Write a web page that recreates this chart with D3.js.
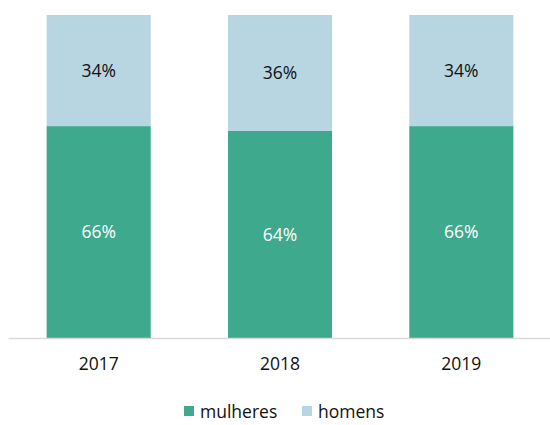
<!DOCTYPE html>
<html><head><meta charset="utf-8">
<script src="https://cdn.jsdelivr.net/npm/d3@7"></script>
<style>body{margin:0;background:#fff}svg{display:block}text{font-family:"Open Sans","Noto Sans",sans-serif}</style>
</head><body><svg id="c" width="550" height="425"></svg>
<script>
const years = ["2017","2018","2019"];
const mulheres = [65.6, 64.1, 65.6];
const homens = [34.4, 35.9, 34.4];
const seriesNames = ["mulheres","homens"];
const colors = ["#3EA98C","#B8D6E2"];

const svg = d3.select("#c");
const x = d3.scaleBand().domain(years).range([8,552]).paddingInner(0.426).paddingOuter(0.213);
const y = d3.scaleLinear().domain([0,100]).range([338,15]);
const rows = years.map((yr,i)=>({year:yr, mulheres:mulheres[i], homens:homens[i]}));
const stack = d3.stack().keys(seriesNames)(rows);
const vals = {mulheres, homens};

stack.forEach((s,si)=>{
  const g = svg.append("g");
  g.selectAll("rect").data(s).join("rect")
    .attr("x", d=>x(d.data.year)).attr("width", x.bandwidth())
    .attr("y", d=>y(d[1])).attr("height", d=>y(d[0])-y(d[1]))
    .attr("fill", colors[si]);
  g.selectAll("text").data(s).join("text")
    .attr("x", d=>x(d.data.year)+x.bandwidth()/2)
    .attr("y", d=>(y(d[0])+y(d[1]))/2)
    .attr("dy","0.35em").attr("text-anchor","middle")
    .attr("font-size",17.5).attr("fill", si===0?"#fff":"#111")
    .text((d,i)=>Math.round(vals[s.key][i])+"%");
});

const ax = svg.append("g").attr("transform","translate(0,338)").call(d3.axisBottom(x).tickSize(0).tickPadding(20));
ax.select(".domain").attr("stroke","#d9d9d9").attr("stroke-width",1.5);
ax.selectAll("text").attr("font-size",17.5).attr("fill","#111").style("font-family","'Open Sans','Noto Sans',sans-serif");

const leg = svg.append("g");
const legX = [184, 302];
seriesNames.forEach((n,i)=>{
  leg.append("rect").attr("x",legX[i]).attr("y",406).attr("width",10).attr("height",10).attr("fill",colors[i]);
  leg.append("text").attr("x",legX[i]+16).attr("y",412).attr("dy","0.35em").attr("font-size",17.5).attr("fill","#111").text(n);
});
</script></body></html>
